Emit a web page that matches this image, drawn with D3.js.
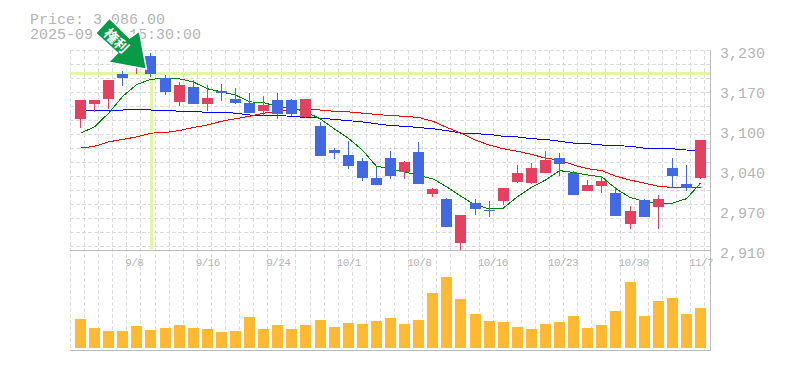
<!DOCTYPE html>
<html><head><meta charset="utf-8">
<script src="https://cdn.jsdelivr.net/npm/d3@7"></script>
<style>html,body{margin:0;padding:0;background:#fff}svg{display:block}text{font-family:"Liberation Mono",monospace;fill:#b4b4b4}</style>
</head><body><div id="chart"></div>
<script>
const open_ = [3120,3144,3152,3192,3206,3220,3185,3147,3171,3144,3164,3152,3145,3132,3150,3150,3124,3108,3070,3062,3052,3025,3057,3035,3067,3000,2992,2921,2985,2974,2988,3019,3017,3033,3057,3033,3004,3012,3001,2952,2990,2979,3041,3016,3025];
const close_ = [3150,3150,3182,3185,3214,3192,3163,3174,3144,3153,3160,3145,3129,3142,3128,3128,3152,3060,3065,3044,3025,3014,3028,3051,3016,3008,2948,2966,2976,2972,3009,3033,3041,3054,3048,2998,3014,3020,2964,2972,2963,2992,3028,3009,3086];
const high = [3150,3150,3182,3196,3220,3226,3190,3179,3182,3174,3176,3169,3161,3156,3161,3152,3152,3115,3073,3084,3057,3043,3068,3052,3083,3009,2993,2966,2992,2988,3009,3046,3049,3068,3065,3036,3022,3028,3011,2980,2992,2998,3057,3046,3086];
const low = [3105,3131,3136,3172,3192,3187,3158,3140,3144,3132,3148,3144,3129,3124,3120,3124,3121,3060,3056,3040,3020,3014,3024,3024,3016,2995,2947,2908,2966,2963,2982,3017,3016,3033,3028,2998,3004,3001,2964,2944,2963,2944,3011,3004,3024];
const maShort = [3097,3107,3129,3156,3175,3183,3185,3184,3179,3168,3163,3158,3147,3146,3139,3137,3131,3120,3104,3089,3070,3044,3040,3035,3029,3024,3011,2996,2982,2976,2977,2995,3010,3022,3037,3034,3030,3027,3008,2994,2988,2985,2985,2992,3017];
const maMid = [3073,3076,3083,3087,3091,3097,3098,3101,3106,3110,3116,3120,3124,3129,3132,3135,3136,3134,3132,3131,3129,3127,3125,3124,3122,3116,3106,3097,3086,3078,3072,3068,3063,3057,3054,3046,3040,3037,3028,3022,3017,3012,3010,3010,3010];
const maLong = [3134,3134,3134,3134,3135,3134,3134,3132,3132,3130,3130,3129,3126,3126,3125,3124,3122,3121,3119,3117,3115,3112,3109,3108,3106,3104,3101,3097,3096,3095,3092,3091,3088,3087,3084,3081,3080,3078,3077,3076,3073,3072,3072,3070,3069];
const volume = [29,20,17,17,22,18,20,23,20,19,16,17,31,19,23,19,23,28,21,25,24,27,30,24,28,55,71,49,34,27,26,21,19,24,26,32,20,23,37,66,32,47,50,34,40];
const dateTicks = ["9/8","9/16","9/24","10/1","10/8","10/16","10/23","10/30","11/7"];
const dateTickIndex = [4,9,14,19,24,29,34,39,44];
const priceTicks = [3230,3166,3102,3038,2974,2910];
const priceTickLabels = ["3,230","3,170","3,100","3,040","2,970","2,910"];
const infoLines = ["Price: 3,086.00","2025-09-08 15:30:00"];
const markerLabel = "権利";
const cursorIndex = 5;
const cursorPrice = 3193;

const W = 785, H = 370;
const idx = d3.range(open_.length);
const x = d3.scalePoint().domain(idx).range([80.5, 700.5]);
const step = x.step();
const y = d3.scaleLinear().domain([2910, 3230]).range([250, 50]);
const yV = d3.scaleLinear().domain([0, 96]).range([348, 252]);
const left = 70, right = 710;
const C = {grid:"#dcdcdc", axis:"#bbb", up:"#e2425f", down:"#4169e1", vol:"#ffb933", cursor:"#e4f5a8", arrow:"#079a49"};

const svg = d3.select("#chart").append("svg").attr("width", W).attr("height", H);

// grid
const g = svg.append("g").attr("stroke", C.grid).attr("stroke-dasharray", "4,2").attr("shape-rendering", "crispEdges");
g.selectAll("line.v").data(d3.range(46)).join("line").attr("class", "v")
  .attr("x1", k => Math.round(left + step * k) + .5).attr("x2", k => Math.round(left + step * k) + .5)
  .attr("y1", 50).attr("y2", 350);
g.selectAll("line.h").data(d3.range(15)).join("line").attr("class", "h")
  .attr("x1", left).attr("x2", right)
  .attr("y1", k => 50.5 + 14 * k).attr("y2", k => 50.5 + 14 * k);

// cursor
const cur = svg.append("g").attr("stroke", C.cursor).attr("stroke-width", 3).attr("shape-rendering", "crispEdges");
cur.append("line").attr("x1", left).attr("x2", right).attr("y1", y(cursorPrice)).attr("y2", y(cursorPrice));
cur.append("line").attr("x1", Math.round(x(cursorIndex))).attr("x2", Math.round(x(cursorIndex))).attr("y1", 53).attr("y2", 249);

// moving averages
const line = d3.line().x((d, i) => x(i)).y(d => y(d));
[[maLong, "#0000ff"], [maMid, "#ff0000"], [maShort, "#008000"]].forEach(([s, c]) =>
  svg.append("path").attr("d", line(s)).attr("fill", "none").attr("stroke", c).attr("stroke-width", 1).attr("shape-rendering", "crispEdges"));

// candles
const barX = i => Math.round(x(i) - 5.5);
const col = i => close_[i] >= open_[i] ? C.up : C.down;
const c = svg.append("g").attr("shape-rendering", "crispEdges");
c.selectAll("line").data(idx).join("line")
  .attr("x1", i => barX(i) + 5.5).attr("x2", i => barX(i) + 5.5)
  .attr("y1", i => y(high[i])).attr("y2", i => y(low[i])).attr("stroke", col);
c.selectAll("rect").data(idx).join("rect")
  .attr("x", barX).attr("width", 11)
  .attr("y", i => Math.round(y(Math.max(open_[i], close_[i]))))
  .attr("height", i => Math.max(1, Math.round(Math.abs(y(open_[i]) - y(close_[i])))))
  .attr("fill", col);

// volume
svg.append("g").attr("shape-rendering", "crispEdges").selectAll("rect").data(idx).join("rect")
  .attr("x", barX).attr("width", 11)
  .attr("y", i => yV(volume[i])).attr("height", i => yV(0) - yV(volume[i]))
  .attr("fill", C.vol);

// frame
const f = svg.append("g").attr("stroke", C.axis).attr("shape-rendering", "crispEdges");
f.append("line").attr("x1", left).attr("x2", right + 1).attr("y1", 250.5).attr("y2", 250.5);
f.append("line").attr("x1", left).attr("x2", right + 1).attr("y1", 350.5).attr("y2", 350.5);
f.append("line").attr("x1", right + .5).attr("x2", right + .5).attr("y1", 50).attr("y2", 351);

// axis text
svg.append("g").selectAll("text").data(priceTicks).join("text")
  .attr("x", 720).attr("y", d => y(d) + 8).attr("font-size", 15)
  .text((d, i) => priceTickLabels[i]);
svg.append("g").selectAll("text").data(dateTicks).join("text")
  .attr("x", (d, i) => x(dateTickIndex[i]) - 11.5).attr("y", 266)
  .attr("font-size", 11).attr("letter-spacing", "-0.6px").text(d => d);

// info
svg.append("g").selectAll("text").data(infoLines).join("text")
  .attr("x", 30).attr("y", (d, i) => 23.5 + 15 * i).attr("font-size", 15).text(d => d);

// marker arrow, anchored to the cursor candle
const tx = x(cursorIndex) - 4.5, ty = y(cursorPrice) - 4;
const a = svg.append("g").attr("transform", `translate(${tx},${ty})`);
a.append("polygon")
  .attr("points", [[0,0],[-38,-7],[-29,-16],[-51,-36],[-37,-51],[-17,-31],[-7,-38]].join(" "))
  .attr("fill", C.arrow).attr("stroke", "#fff").attr("stroke-width", 1.5).attr("stroke-linejoin", "miter");
a.append("text").attr("transform", "translate(-29.5,-29) rotate(45)")
  .attr("text-anchor", "middle").attr("dominant-baseline", "central")
  .attr("font-size", 14).attr("font-weight", 700)
  .style("font-family", '"Noto Sans CJK JP"').style("fill", "#fff").text(markerLabel);
</script></body></html>
